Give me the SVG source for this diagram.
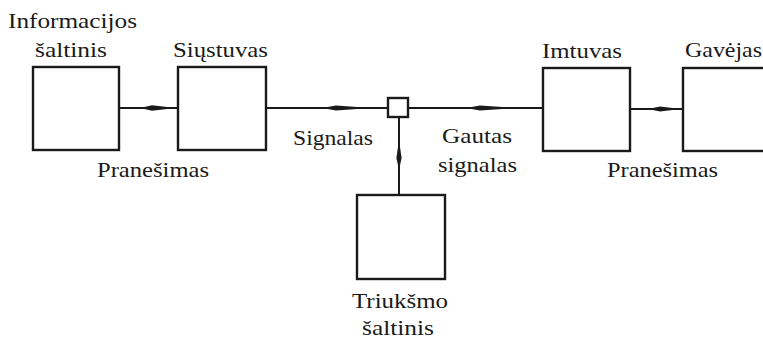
<svg xmlns="http://www.w3.org/2000/svg" width="763" height="344" viewBox="0 0 763 344">
<style>
.box{fill:#fff;stroke:#1a1a1a;stroke-width:2.4}
.ln{stroke:#1a1a1a;stroke-width:2;fill:none}
.sp{fill:#1a1a1a}
text{font-family:"Liberation Serif","Times New Roman",serif;font-size:22px;fill:#1a1a1a;text-anchor:middle}
</style>
<g id="connectors">
<line class="ln" x1="119" y1="108" x2="178" y2="108"/>
<polygon class="sp" points="140,108 152,105.3 176,108 152,110.7"/>
<line class="ln" x1="266" y1="108" x2="388" y2="108"/>
<polygon class="sp" points="322,108 336,105.4 372,108 336,110.6"/>
<line class="ln" x1="408" y1="108" x2="543" y2="108"/>
<polygon class="sp" points="466,108 480,105.4 516,108 480,110.6"/>
<line class="ln" x1="630" y1="109" x2="683" y2="109"/>
<polygon class="sp" points="648,109 660,106.4 681,109 660,111.6"/>
<line class="ln" x1="399" y1="195" x2="399" y2="117"/>
<polygon class="sp" points="399,170 396.4,158 399,140 401.6,158"/>
</g>
<g id="source"><rect class="box" x="33" y="67" width="86" height="83"/><text x="72.5" y="28" textLength="129" lengthAdjust="spacingAndGlyphs">Informacijos</text><text x="71" y="57" textLength="72" lengthAdjust="spacingAndGlyphs">šaltinis</text></g>
<g id="transmitter"><rect class="box" x="178" y="67" width="88" height="83"/><text x="220.5" y="57" textLength="95" lengthAdjust="spacingAndGlyphs">Siųstuvas</text></g>
<g id="mixer"><rect class="box" x="388" y="98" width="20" height="19"/></g>
<g id="receiver"><rect class="box" x="543" y="68" width="87" height="83"/><text x="582" y="58" textLength="80" lengthAdjust="spacingAndGlyphs">Imtuvas</text></g>
<g id="destination"><rect class="box" x="683" y="68" width="90" height="83"/><text x="723.5" y="57" textLength="77" lengthAdjust="spacingAndGlyphs">Gavėjas</text></g>
<g id="noise"><rect class="box" x="357" y="195" width="88" height="84"/><text x="400" y="308" textLength="96" lengthAdjust="spacingAndGlyphs">Triukšmo</text><text x="398" y="335" textLength="72" lengthAdjust="spacingAndGlyphs">šaltinis</text></g>
<g id="labels">
<text x="153" y="177" textLength="112" lengthAdjust="spacingAndGlyphs">Pranešimas</text>
<text x="333" y="145" textLength="80" lengthAdjust="spacingAndGlyphs">Signalas</text>
<text x="477" y="143" textLength="70" lengthAdjust="spacingAndGlyphs">Gautas</text>
<text x="477.5" y="172" textLength="79" lengthAdjust="spacingAndGlyphs">signalas</text>
<text x="662.5" y="177" textLength="111" lengthAdjust="spacingAndGlyphs">Pranešimas</text>
</g>
</svg>
